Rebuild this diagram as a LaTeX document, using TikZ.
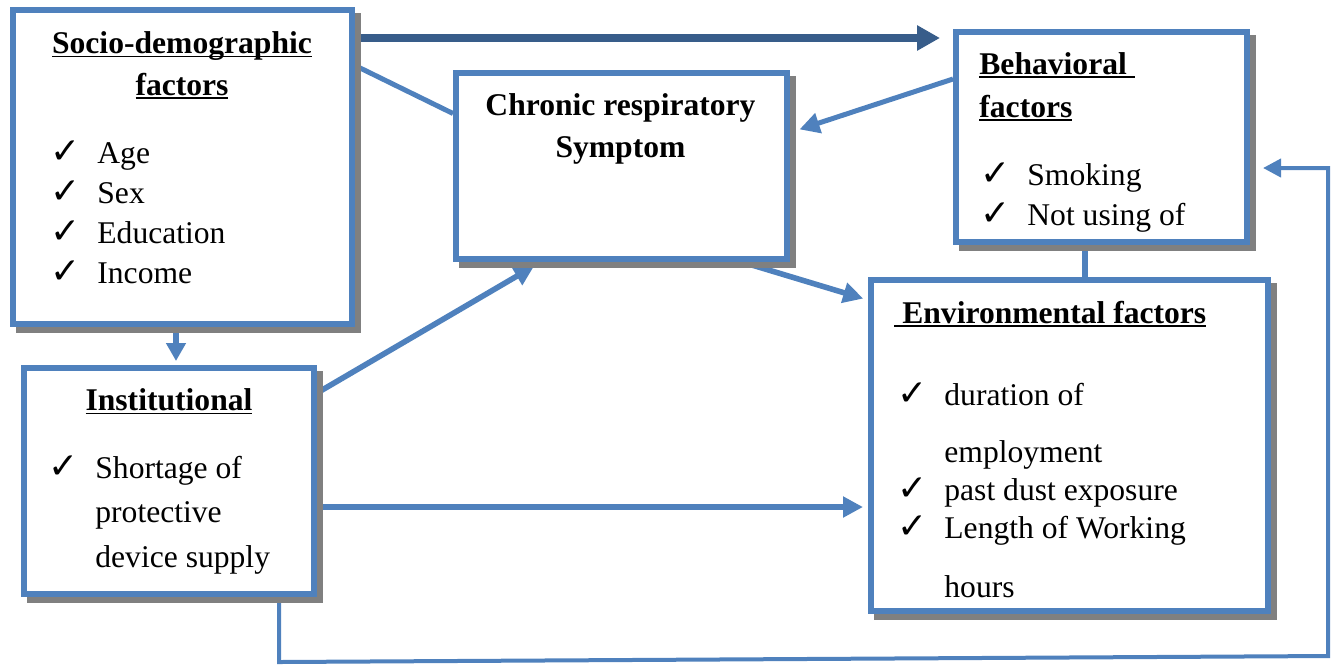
\documentclass[tikz,border=0pt]{standalone}
\usepackage{fontspec}
\setmainfont{Liberation Serif}
\newfontfamily\checkfont{DejaVu Sans}
\usepackage{tikz}
\usetikzlibrary{arrows.meta,calc,positioning,shadows,backgrounds}
\definecolor{boxblue}{HTML}{4F81BD}
\definecolor{arrowdark}{HTML}{385D8A}
\definecolor{shadowgray}{HTML}{808080}
\newcommand{\ck}{\makebox[11pt][l]{\checkfont\fontsize{18}{18}\selectfont ✓}}
\newcommand{\undl}[1]{\setbox0\hbox{#1}\rlap{\rule[-1.8pt]{\wd0}{0.8pt}}\box0}

\begin{document}
\begin{tikzpicture}[x=0.5pt, y=-0.5pt,
  factorbox/.style={draw=boxblue, line width=3pt, fill=white, inner sep=0pt,
    drop shadow={shadow xshift=3pt, shadow yshift=-3pt, fill=shadowgray, draw=shadowgray, line width=3pt, opacity=1}},
  itemtext/.style={inner sep=0pt, font=\fontsize{15.8}{#1}\selectfont},
  itemtext/.default=20,
  boxhead/.style={inner sep=0pt, font=\fontsize{15.8}{#1}\selectfont\bfseries},
  boxhead/.default=20.75,
  link/.style={boxblue, line width=2.8pt},
  linkarrow/.style={-{Triangle[length=10pt,width=10pt]}}]
  \useasboundingbox (0,0) rectangle (1336,666);

  % boxes
  \node[factorbox, minimum width=169.5pt, minimum height=157pt] (socio) at (182.5,167) {};
  \node[factorbox, minimum width=165.5pt, minimum height=93pt] (chronic) at (621.5,166) {};
  \node[factorbox, minimum width=145.5pt, minimum height=105pt] (behav) at (1101.5,137) {};
  \node[factorbox, minimum width=145pt, minimum height=113pt] (instit) at (169,481) {};
  \node[factorbox, minimum width=198.5pt, minimum height=165.5pt] (env) at (1069.5,445.5) {};

  % texts
  \node[boxhead, anchor=base] (sociohead) at (182,53.5)
    {\begin{tabular}[t]{@{}c@{}}\undl{Socio-demographic}\\\undl{factors}\end{tabular}};
  \node[itemtext, anchor=base west] (socioitems) at (50,163)
    {\begin{tabular}[t]{@{}l@{\hspace{12.5pt}}l@{}}\ck & Age\\\ck & Sex\\\ck & Education\\\ck & Income\end{tabular}};
  \node[boxhead=21, anchor=base] (chronichead) at (620.5,115)
    {\begin{tabular}[t]{@{}c@{}}Chronic respiratory\\Symptom\end{tabular}};
  \node[boxhead=21.5, anchor=base west] (behavhead) at (979,74)
    {\begin{tabular}[t]{@{}l@{}}\undl{Behavioral\ }\\\undl{factors}\end{tabular}};
  \node[itemtext, anchor=base west] (behavitems) at (980,185)
    {\begin{tabular}[t]{@{}l@{\hspace{12.5pt}}l@{}}\ck & Smoking\\\ck & Not using of\end{tabular}};
  \node[boxhead, anchor=base] (instithead) at (169,410.5) {\undl{Institutional}};
  \node[itemtext=22.25, anchor=base west] (institems) at (48,478)
    {\begin{tabular}[t]{@{}l@{\hspace{12.5pt}}l@{}}\ck & Shortage of\\ & protective\\ & device supply\end{tabular}};
  \node[boxhead, anchor=base west] (envhead) at (894,323) {\undl{\ Environmental factors}};
  \node[itemtext=19, anchor=base west] (envitems) at (897,405)
    {\begin{tabular}[t]{@{}l@{\hspace{12.5pt}}l@{}}\ck & duration of\\[9.5pt] & employment\\\ck & past dust exposure\\\ck & Length of Working\\[10.5pt] & hours\end{tabular}};

  % connectors
  \coordinate (loopbl) at (279,662);
  \coordinate (loopbr) at (1328,656);
  \coordinate (looptr) at (1328,168);
  \begin{scope}[on background layer]
    \draw[arrowdark, line width=3.8pt, -{Triangle[length=11.5pt,width=12pt]}, shorten >=6.5pt] (socio.east |- 0,38) -- (behav.west |- 0,38);
    \draw[link, line width=2.5pt] (socio.east |- 0,65.5) -- (chronic.west |- 0,113.5);
    \draw[link, line width=2.5pt, linkarrow, shorten >=5pt] (behav.west |- 0,79) -- (chronic.east |- 0,132.5);
    \draw[link, linkarrow, shorten >=2.5pt] (chronic.south -| 742,0) -- (env.west |- 0,300);
    \draw[link, linkarrow, shorten >=4pt] (instit.east |- 0,393) -- (chronic.south -| 541,0);
    \draw[link, linkarrow, shorten >=2.5pt] (instit.east |- 0,507) -- (env.west |- 0,507);
    \draw[link, -{Triangle[length=9pt,width=9.5pt]}, shorten >=2pt] (socio.south -| 176,0) -- (instit.north -| 176,0);
    \draw[link] (behav.south -| 1085,0) -- (env.north -| 1085,0);
    \draw[link, line width=2pt, -{Triangle[length=9pt,width=9pt]}, shorten >=6.5pt]
      (instit.south -| loopbl) -- (loopbl) -- (loopbr) -- (looptr) -- (behav.east |- looptr);
  \end{scope}
\end{tikzpicture}
\end{document}
